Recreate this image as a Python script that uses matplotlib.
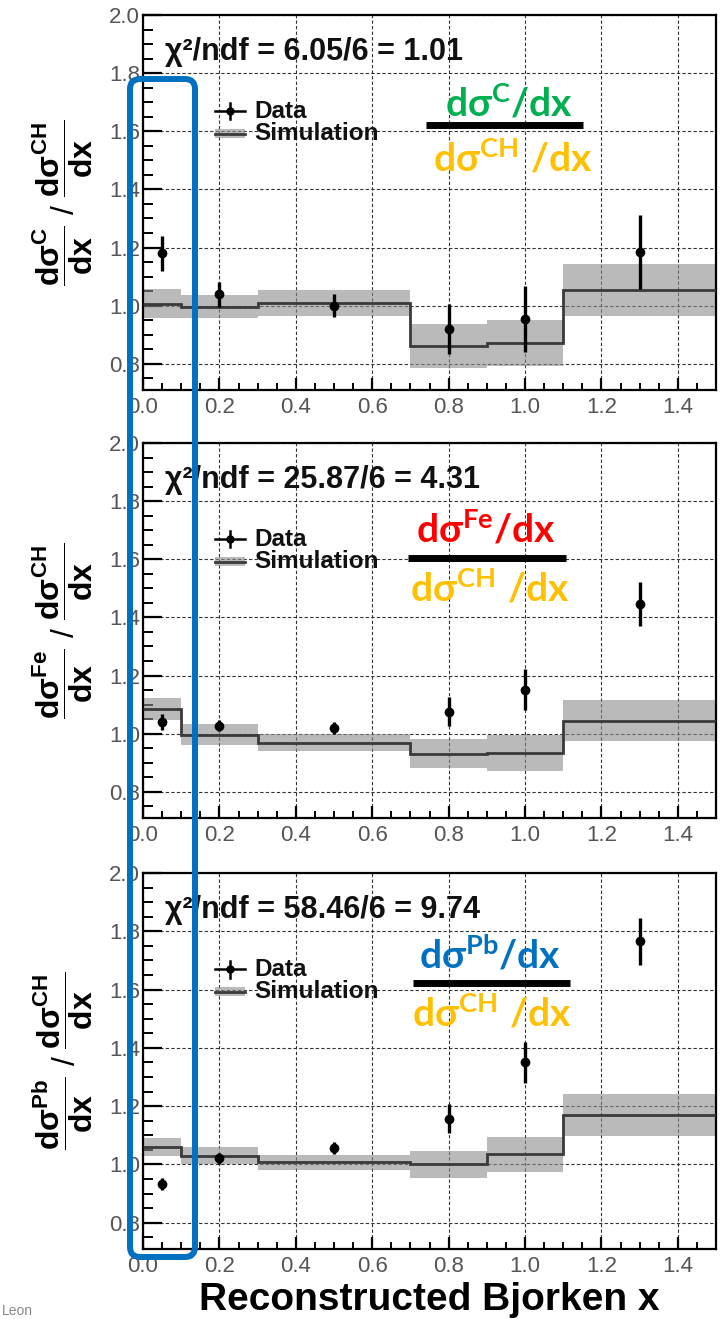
import matplotlib
matplotlib.use("Agg")
import matplotlib.pyplot as plt
from matplotlib.patches import FancyBboxPatch
from matplotlib.lines import Line2D
from matplotlib.patches import Rectangle
from matplotlib.transforms import IdentityTransform
from matplotlib.ticker import MultipleLocator, FormatStrFormatter

plt.rcParams['font.family'] = ['Liberation Sans', 'DejaVu Sans']
plt.rcParams['mathtext.fontset'] = 'custom'
plt.rcParams['mathtext.rm'] = 'Liberation Sans:bold'
plt.rcParams['mathtext.it'] = 'Liberation Sans:bold'
plt.rcParams['mathtext.bf'] = 'Liberation Sans:bold'
plt.rcParams['mathtext.sf'] = 'Lato:bold'
plt.rcParams['mathtext.default'] = 'rm'

# ---- data -------------------------------------------------------------
x_points = [0.05, 0.2, 0.5, 0.8, 1.0, 1.3]
bin_edges = [0.0, 0.1, 0.3, 0.7, 0.9, 1.1, 1.5]

c_ratio = [1.18, 1.04, 1.00, 0.92, 0.955, 1.185]
c_err = [0.06, 0.043, 0.04, 0.085, 0.113, 0.127]
c_sim = [1.007, 0.997, 1.01, 0.862, 0.872, 1.055]
c_sim_err = [0.05, 0.04, 0.045, 0.075, 0.08, 0.09]

fe_ratio = [1.04, 1.028, 1.02, 1.076, 1.152, 1.445]
fe_err = [0.028, 0.02, 0.02, 0.05, 0.07, 0.076]
fe_sim = [1.086, 0.997, 0.969, 0.931, 0.934, 1.045]
fe_sim_err = [0.038, 0.035, 0.03, 0.05, 0.062, 0.07]

pb_ratio = [0.934, 1.021, 1.056, 1.157, 1.35, 1.766]
pb_err = [0.02, 0.02, 0.02, 0.05, 0.07, 0.08]
pb_sim = [1.06, 1.03, 1.007, 1.0, 1.035, 1.17]
pb_sim_err = [0.032, 0.03, 0.027, 0.047, 0.06, 0.072]

targets = ['C', 'Fe', 'Pb']
target_colors = ['#00B050', '#FF0000', '#0070C0']
chi2_labels = ['\u03c7\u00b2/ndf = 6.05/6 = 1.01',
               '\u03c7\u00b2/ndf = 25.87/6 = 4.31',
               '\u03c7\u00b2/ndf = 58.46/6 = 9.74']
x_title = 'Reconstructed Bjorken x'
ch_color = '#FFC000'

# ---- layout (pixel geometry) -------------------------------------------
W, H = 721, 1319
fig = plt.figure(figsize=(W / 100, H / 100), dpi=100)


def fx(px):
    return px / W


def fy(py):
    return 1 - py / H


ax_left, ax_right = 143, 716
panel_tops = [15, 443, 873]
panel_bottoms = [390, 818, 1249]

panels = [
    (c_ratio, c_err, c_sim, c_sim_err),
    (fe_ratio, fe_err, fe_sim, fe_sim_err),
    (pb_ratio, pb_err, pb_sim, pb_sim_err),
]

axes = []
for i, (ratio, err, sim, sim_err) in enumerate(panels):
    top, bot = panel_tops[i], panel_bottoms[i]
    ax = fig.add_axes([fx(ax_left), fy(bot), (ax_right - ax_left) / W, (bot - top) / H])
    axes.append(ax)

    lo = [s - e for s, e in zip(sim, sim_err)]
    hi = [s + e for s, e in zip(sim, sim_err)]
    ax.stairs(hi, bin_edges, baseline=lo, fill=True, color='#8c8c8c',
              alpha=0.6, lw=0, zorder=2)
    ax.stairs(sim, bin_edges, baseline=None, color='#3a3a3a', lw=2.0, zorder=3)
    ax.errorbar(x_points, ratio, yerr=err, fmt='o', ms=6, color='black',
                ecolor='black', elinewidth=2.4, capsize=0, zorder=5)

    ax.set_xlim(0, 1.5)
    ax.set_ylim(0.71, 2.0)
    ax.xaxis.set_major_locator(MultipleLocator(0.2))
    ax.xaxis.set_minor_locator(MultipleLocator(0.05))
    ax.yaxis.set_major_locator(MultipleLocator(0.2))
    ax.yaxis.set_minor_locator(MultipleLocator(0.05))
    ax.xaxis.set_major_formatter(FormatStrFormatter('%.1f'))
    ax.yaxis.set_major_formatter(FormatStrFormatter('%.1f'))
    ax.tick_params(axis='y', which='major', direction='in', length=14, width=1.6,
                   labelsize=16, labelcolor='#555555', pad=2)
    ax.tick_params(axis='y', which='minor', direction='in', length=7, width=1.4)
    ax.tick_params(axis='x', which='major', direction='in', length=9, width=1.6,
                   labelsize=16, labelcolor='#555555', pad=5)
    ax.tick_params(axis='x', which='minor', direction='in', length=5, width=1.4)
    ax.grid(True, which='major', ls=(0, (3, 2)), color='#333333', lw=0.8, zorder=1)
    ax.set_axisbelow(True)
    for sp in ax.spines.values():
        sp.set_linewidth(1.6)

    # chi2 statement
    ax.text(0.038, 0.88, chi2_labels[i], transform=ax.transAxes, fontsize=22,
            fontweight='bold', va='baseline', ha='left', color='#111111')

    # legend
    y_d, y_s = 0.744, 0.684
    ax.add_line(Line2D([0.126, 0.178], [y_d, y_d], transform=ax.transAxes,
                       color='black', lw=1.8))
    ax.add_line(Line2D([0.152, 0.152], [y_d - 0.022, y_d + 0.022],
                       transform=ax.transAxes, color='black', lw=1.8))
    ax.add_line(Line2D([0.152], [y_d], transform=ax.transAxes, marker='o',
                       ms=5, color='black'))
    ax.add_patch(Rectangle((0.126, y_s - 0.012), 0.052, 0.024,
                           transform=ax.transAxes, color='#8c8c8c', alpha=0.6, lw=0))
    ax.add_line(Line2D([0.126, 0.178], [y_s, y_s], transform=ax.transAxes,
                       color='#3a3a3a', lw=2.0))
    ax.text(0.195, y_d, 'Data', transform=ax.transAxes, fontsize=17.5,
            fontweight='bold', va='center', ha='left', color='#111111')
    ax.text(0.195, y_s, 'Simulation', transform=ax.transAxes, fontsize=17.5,
            fontweight='bold', va='center', ha='left', color='#111111')

    # y title
    t = targets[i]
    ax.set_ylabel(r'$\dfrac{d\sigma^{%s}}{dx}$ / $\dfrac{d\sigma^{CH}}{dx}$' % t,
                  fontsize=23)
    ax.yaxis.set_label_coords(-0.084, 0.5)

axes[-1].set_xlabel(x_title, fontsize=28, fontweight='bold', labelpad=4)

# ---- ratio annotations -----------------------------------------------
num_pos = [(509, 117), (486, 543), (490, 968)]
bar_pos = [(426, 583, 125), (408, 566, 558), (413, 570, 983)]
den_pos = [(513, 160), (490, 590), (492, 1015)]
for i, t in enumerate(targets):
    nx, ny = num_pos[i]
    fig.text(fx(nx), fy(ny), r'$\mathsf{d\sigma^{%s}/dx}$' % t, fontsize=28,
             color=target_colors[i], ha='center', va='baseline')
    x0, x1, yb = bar_pos[i]
    fig.add_artist(Line2D([fx(x0), fx(x1)], [fy(yb), fy(yb)],
                          transform=fig.transFigure, color='black', lw=5,
                          solid_capstyle='butt'))
    dx_, dy_ = den_pos[i]
    fig.text(fx(dx_), fy(dy_), r'$\mathsf{d\sigma^{CH}\ /dx}$', fontsize=28,
             color=ch_color, ha='center', va='center')

# highlight box around the lowest-x bin
fig.add_artist(FancyBboxPatch((130, H - 1257), 65, 1257 - 79,
                              boxstyle='round,pad=0,rounding_size=10',
                              transform=IdentityTransform(), fill=False,
                              edgecolor='#0070C0', lw=4.3))

fig.text(fx(2), fy(1318), 'Leon', fontsize=10, color='#888888',
         ha='left', va='bottom')

fig.savefig('out.png', dpi=100)
